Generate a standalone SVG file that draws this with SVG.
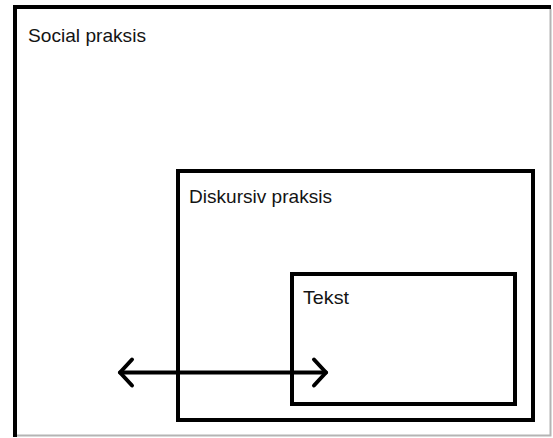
<svg xmlns="http://www.w3.org/2000/svg" width="553" height="438" viewBox="0 0 553 438">
  <defs>
    <style>
      .frame { fill: none; stroke: #000; stroke-width: 4; }
      .edge { fill: none; stroke: #b4b4b4; stroke-width: 2; }
      .label { font-family: "Liberation Sans", Arial, sans-serif; font-size: 19px; fill: #141414; }
      .arrow { fill: none; stroke: #000; stroke-width: 4; stroke-linecap: round; stroke-linejoin: round; }
    </style>
  </defs>
  <rect width="553" height="438" fill="#fff"/>

  <!-- outermost level: social practice -->
  <g id="social-praksis">
    <path class="frame" d="M15,437 V7 H551"/>
    <path class="edge" d="M550.5,9 V435.5 H17"/>
    <text class="label" x="28" y="42" textLength="118" lengthAdjust="spacingAndGlyphs">Social praksis</text>
  </g>

  <!-- middle level: discursive practice -->
  <g id="diskursiv-praksis">
    <rect class="frame" x="178" y="171" width="355" height="249"/>
    <text class="label" x="189" y="203" textLength="143" lengthAdjust="spacingAndGlyphs">Diskursiv praksis</text>
  </g>

  <!-- innermost level: text -->
  <g id="tekst">
    <rect class="frame" x="292" y="274" width="223" height="130"/>
    <text class="label" x="303" y="304" textLength="46" lengthAdjust="spacingAndGlyphs">Tekst</text>
  </g>

  <!-- double-headed arrow crossing the levels -->
  <g id="connectors">
    <path class="arrow" d="M120,372.5 H326"/>
    <path class="arrow" d="M132,359.5 L120,372.5 L132,385.5"/>
    <path class="arrow" d="M314,359.5 L326,372.5 L314,385.5"/>
  </g>
</svg>
